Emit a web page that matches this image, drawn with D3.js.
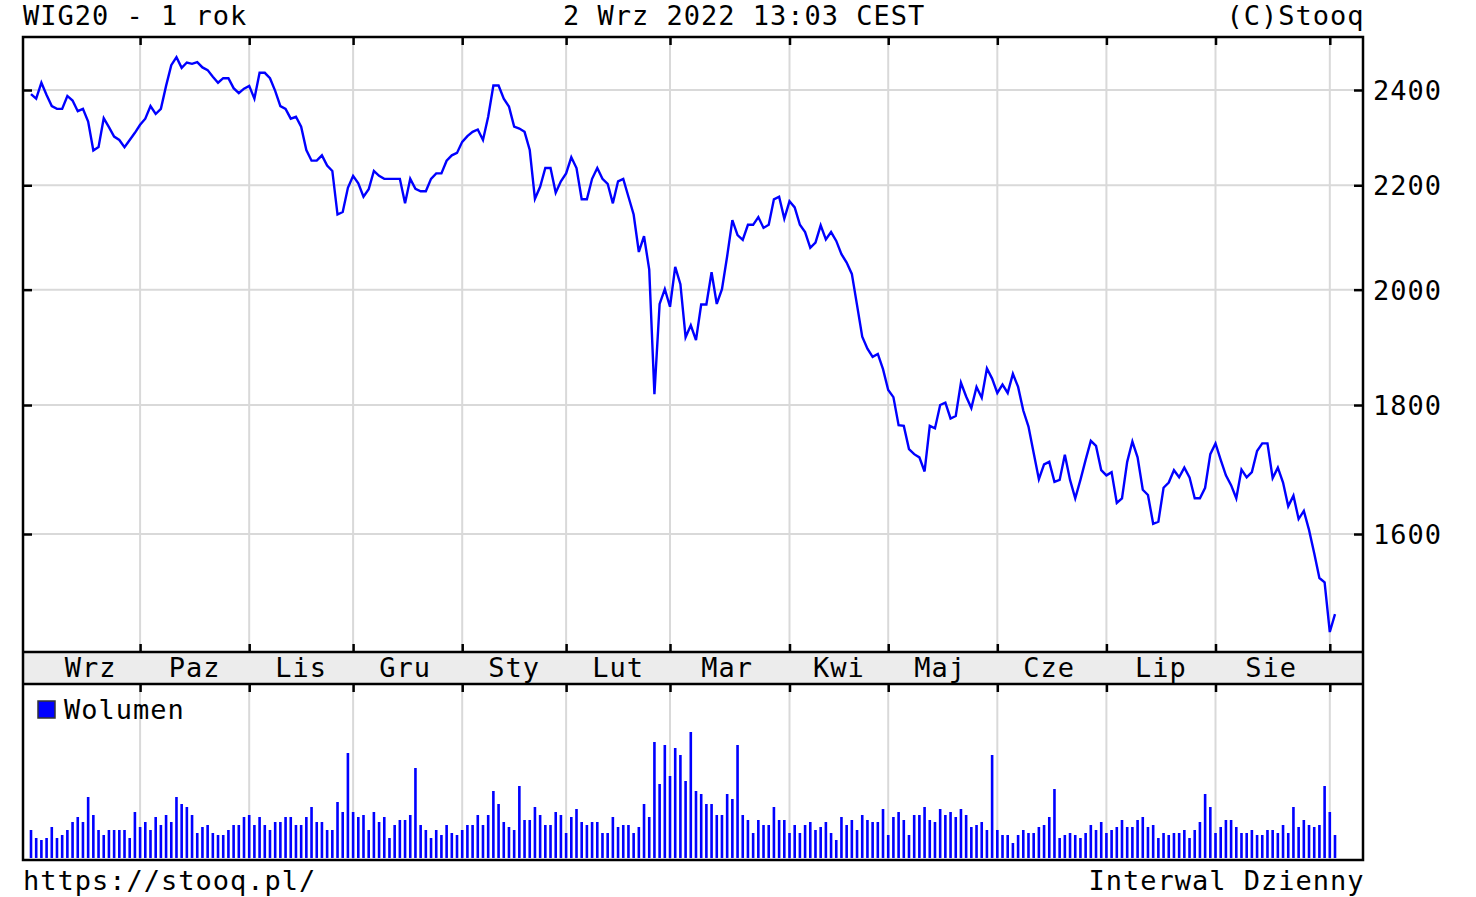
<!DOCTYPE html>
<html>
<head>
<meta charset="utf-8">
<script src="https://cdn.jsdelivr.net/npm/d3@7"></script>
<style>
  body { margin: 0; background: #fff; }
  text { font-family: 'DejaVu Sans Mono', monospace; font-size: 27px; letter-spacing: 1px; fill: #000; }
</style>
</head>
<body>
<div id="chart"></div>
<script>
// WIG20 daily close, 2 Sep 2021 .. 2 Sep 2022 (one value per session)
const closeValues = [
  2391, 2381, 2416, 2389, 2365, 2359, 2359, 2387, 2377, 2354,
  2359, 2332, 2271, 2278, 2339, 2320, 2300, 2293, 2278, 2293,
  2308, 2325, 2338, 2365, 2348, 2359, 2409, 2455, 2473, 2449,
  2461, 2458, 2462, 2450, 2444, 2429, 2416, 2426, 2426, 2404,
  2393, 2403, 2409, 2381, 2438, 2438, 2426, 2398, 2365, 2359,
  2338, 2342, 2321, 2272, 2250, 2250, 2261, 2240, 2229, 2142,
  2147, 2195, 2219, 2204, 2177, 2192, 2229, 2219, 2213, 2213,
  2213, 2213, 2164, 2213, 2193, 2188, 2188, 2213, 2224, 2224,
  2250, 2261, 2266, 2289, 2301, 2310, 2315, 2293, 2342, 2410,
  2410, 2381, 2364, 2321, 2317, 2310, 2272, 2173, 2197, 2235,
  2235, 2185, 2208, 2224, 2257, 2235, 2172, 2172, 2213, 2235,
  2213, 2203, 2164, 2208, 2213, 2177, 2142, 2070, 2100, 2037,
  1818, 1974, 2001, 1969, 2042, 2010, 1915, 1936, 1910, 1973,
  1973, 2032, 1974, 2001, 2062, 2131, 2102, 2093, 2122, 2122,
  2137, 2116, 2122, 2172, 2177, 2134, 2168, 2156, 2122, 2108,
  2078, 2088, 2121, 2094, 2108, 2091, 2066, 2050, 2029, 1972,
  1916, 1895, 1881, 1886, 1860, 1825, 1813, 1767, 1766, 1729,
  1721, 1716, 1694, 1766, 1762, 1800, 1804, 1778, 1782, 1837,
  1814, 1795, 1830, 1812, 1861, 1844, 1820, 1834, 1820, 1852,
  1830, 1791, 1765, 1723, 1682, 1705, 1709, 1678, 1681, 1720,
  1681, 1653, 1681, 1712, 1742, 1734, 1696, 1688, 1693, 1646,
  1653, 1709, 1741, 1716, 1666, 1658, 1615, 1618, 1669, 1677,
  1696, 1685, 1700, 1685, 1653, 1653, 1669, 1721, 1738, 1712,
  1688, 1673, 1653, 1697, 1685, 1693, 1726, 1738, 1738, 1684,
  1700, 1677, 1641, 1657, 1622, 1634, 1606, 1572, 1537, 1531,
  1463, 1487
];

// session volume (relative units)
const volumeValues = [
  28, 20, 18, 20, 31, 20, 23, 28, 36, 41,
  36, 61, 43, 28, 23, 28, 28, 28, 28, 20,
  46, 31, 36, 28, 41, 33, 43, 36, 61, 54,
  51, 43, 25, 31, 33, 25, 23, 23, 28, 33,
  33, 41, 43, 33, 41, 33, 28, 36, 36, 41,
  41, 33, 33, 41, 51, 36, 36, 28, 28, 56,
  46, 105, 46, 41, 43, 28, 46, 36, 41, 20,
  33, 38, 38, 43, 90, 33, 28, 20, 28, 23,
  33, 25, 23, 28, 33, 33, 43, 33, 43, 67,
  54, 36, 31, 28, 72, 38, 38, 51, 43, 33,
  33, 46, 43, 25, 41, 49, 36, 33, 36, 36,
  25, 25, 41, 31, 33, 33, 25, 31, 54, 41,
  116, 74, 113, 82, 110, 103, 77, 126, 67, 64,
  54, 54, 43, 43, 64, 59, 113, 43, 38, 25,
  38, 33, 33, 51, 38, 38, 25, 33, 25, 33,
  36, 28, 31, 36, 25, 18, 41, 33, 38, 28,
  43, 38, 36, 36, 49, 23, 41, 46, 38, 23,
  43, 43, 51, 38, 36, 49, 43, 46, 41, 49,
  43, 31, 33, 36, 28, 103, 28, 23, 23, 15,
  23, 28, 25, 25, 31, 33, 41, 69, 20, 23,
  25, 23, 20, 25, 33, 28, 36, 25, 28, 31,
  38, 31, 31, 38, 41, 31, 33, 20, 25, 23,
  25, 25, 28, 20, 28, 36, 64, 51, 25, 31,
  38, 38, 31, 25, 25, 28, 23, 23, 28, 28,
  25, 33, 25, 51, 31, 38, 33, 31, 33, 72,
  46, 23
];

const yTicks = [1600, 1800, 2000, 2200, 2400];
// session index of the first trading day of each month
const monthStarts = [21, 42, 62, 83, 103, 123, 146, 165, 186, 207, 228, 250];
const monthNames = ['Wrz', 'Paz', 'Lis', 'Gru', 'Sty', 'Lut', 'Mar', 'Kwi', 'Maj', 'Cze', 'Lip', 'Sie'];
const monthLabelAt = [11.5, 31.5, 52, 72, 93, 113, 134, 155.5, 175, 196, 217.5, 238.7];

const W = 1476, H = 897;
const frameL = 23, frameR = 1363, frameT = 37;
const bandTop = 652, bandBottom = 684, volBottom = 860;
const gridColor = '#d9d9d9';
const blue = '#0000ff';

const svg = d3.select('#chart').append('svg').attr('width', W).attr('height', H);

const x = d3.scaleLinear().domain([0, closeValues.length - 1]).range([31, 1335]);
const y = d3.scaleLog().domain([1600, 2400]).range([534, 90]);
const yVol = d3.scaleLinear().domain([0, 175]).range([858, 683]);

// month band
svg.append('rect')
  .attr('x', frameL).attr('y', bandTop)
  .attr('width', frameR - frameL).attr('height', bandBottom - bandTop)
  .attr('fill', '#ececec');

// grid
svg.append('g')
  .selectAll('line')
  .data(yTicks)
  .join('line')
  .attr('x1', frameL).attr('x2', frameR)
  .attr('y1', d => y(d)).attr('y2', d => y(d))
  .attr('stroke', gridColor).attr('stroke-width', 2);

[[frameT, bandTop], [bandBottom, volBottom]].forEach(([y1, y2]) => {
  svg.append('g')
    .selectAll('line')
    .data(monthStarts)
    .join('line')
    .attr('x1', d => x(d)).attr('x2', d => x(d))
    .attr('y1', y1).attr('y2', y2)
    .attr('stroke', gridColor).attr('stroke-width', 2);
});

// price line
svg.append('path')
  .datum(closeValues)
  .attr('fill', 'none')
  .attr('stroke', blue)
  .attr('stroke-width', 2.4)
  .attr('d', d3.line().x((d, i) => x(i)).y(d => y(d)));

// volume bars
svg.append('g')
  .selectAll('rect')
  .data(volumeValues)
  .join('rect')
  .attr('x', (d, i) => x(i) - 1.3)
  .attr('width', 2.6)
  .attr('y', d => yVol(d))
  .attr('height', d => yVol(0) - yVol(d))
  .attr('fill', blue);

// frame
svg.append('rect')
  .attr('x', frameL).attr('y', frameT)
  .attr('width', frameR - frameL).attr('height', volBottom - frameT)
  .attr('fill', 'none').attr('stroke', '#000').attr('stroke-width', 2.5);
[bandTop, bandBottom].forEach(yy => {
  svg.append('line')
    .attr('x1', frameL).attr('x2', frameR).attr('y1', yy).attr('y2', yy)
    .attr('stroke', '#000').attr('stroke-width', 2.5);
});

// tick marks
const styleTicks = g => {
  g.select('.domain').remove();
  g.selectAll('.tick line').attr('stroke', '#000').attr('stroke-width', 2.5);
};

svg.append('g')
  .attr('transform', `translate(0,${frameT})`)
  .call(d3.axisTop(x).tickValues(monthStarts).tickSizeInner(-8).tickSizeOuter(0).tickFormat(''))
  .call(styleTicks);

svg.append('g')
  .attr('transform', `translate(0,${bandTop})`)
  .call(d3.axisBottom(x).tickValues(monthStarts).tickSizeInner(-8).tickSizeOuter(0).tickFormat(''))
  .call(styleTicks);

svg.append('g')
  .attr('transform', `translate(0,${bandBottom})`)
  .call(d3.axisTop(x).tickValues(monthStarts).tickSizeInner(-8).tickSizeOuter(0).tickFormat(''))
  .call(styleTicks);

svg.append('g')
  .attr('transform', `translate(${frameL},0)`)
  .call(d3.axisLeft(y).tickValues(yTicks).tickSizeInner(-9).tickSizeOuter(0).tickFormat(''))
  .call(styleTicks);

svg.append('g')
  .attr('transform', `translate(${frameR},0)`)
  .call(d3.axisRight(y).tickValues(yTicks).tickSizeInner(-9).tickSizeOuter(0).tickPadding(10).tickFormat(d3.format('d')))
  .call(styleTicks)
  .selectAll('text').attr('dy', '0.35em');

// month labels
svg.append('g')
  .selectAll('text')
  .data(monthNames)
  .join('text')
  .attr('x', (d, i) => x(monthLabelAt[i]))
  .attr('y', 677)
  .attr('text-anchor', 'middle')
  .text(d => d);

// legend
svg.append('rect')
  .attr('x', 38).attr('y', 701).attr('width', 17).attr('height', 17)
  .attr('fill', blue).attr('stroke', '#333').attr('stroke-width', 1.5);
svg.append('text').attr('x', 64).attr('y', 719).text('Wolumen');

// header and footer (end-anchored texts nudged for trailing letter-spacing)
svg.append('text').attr('x', frameL).attr('y', 25).text('WIG20 - 1 rok');
svg.append('text').attr('x', 563).attr('y', 25).text('2 Wrz 2022 13:03 CEST');
svg.append('text').attr('x', frameR + 1.5).attr('y', 25).attr('text-anchor', 'end').text('(C)Stooq');
svg.append('text').attr('x', frameL).attr('y', 890).text('https://stooq.pl/');
svg.append('text').attr('x', frameR + 1.5).attr('y', 890).attr('text-anchor', 'end').text('Interwal Dzienny');
</script>
</body>
</html>
